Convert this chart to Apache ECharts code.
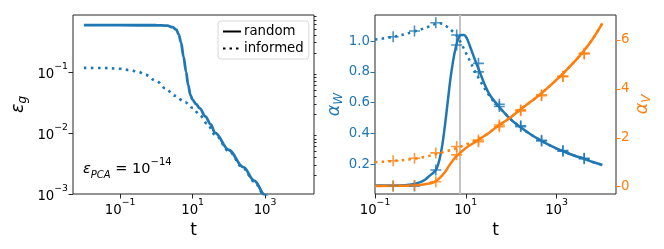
<!DOCTYPE html>
<html><head><meta charset="utf-8">
<script src="https://cdn.jsdelivr.net/npm/echarts@6/dist/echarts.min.js"></script>
<style>html,body{margin:0;padding:0;background:#fff}#c{width:664px;height:249px}</style>
</head><body><div id="c"></div>
<script>
// ===== DATA (x values are log10(t); left-panel y values are log10(eps_g)) =====
// Left panel: generalisation error
const epsRandomLogT   = [-2.0,-1.0,0.0,0.3,0.45,0.55,0.62,0.68,0.75,0.82,0.88,0.94,1.0,1.1,1.2,1.35,1.5,1.62,2.0,2.4,2.7,3.0,3.3];
const epsRandomLogEps = [-0.237,-0.237,-0.238,-0.245,-0.27,-0.31,-0.39,-0.52,-0.75,-1.0,-1.22,-1.38,-1.46,-1.53,-1.6,-1.73,-1.86,-2.0,-2.28,-2.56,-2.78,-3.02,-3.3];
const epsInformedLogT   = [-2.0,-1.5,-1.0,-0.75,-0.5,-0.3,0.0,0.25,0.5,0.8,1.0,1.2,1.4,1.62,2.0,2.4,2.7,3.0,3.3];
const epsInformedLogEps = [-0.935,-0.937,-0.95,-0.97,-1.0,-1.05,-1.15,-1.27,-1.39,-1.5,-1.59,-1.71,-1.85,-2.03,-2.3,-2.58,-2.8,-3.04,-3.32];
const leftXTicks = [-1, 1, 3];
const leftYTicks = [-3, -2, -1];
const legendNames = ['random', 'informed'];
const annotation = {sym: 'ε', sub: 'PCA', base: '10', exp: '−14'};

// Right panel: alpha_W (left axis) and alpha_V (right axis)
const aWRandomLogT = [-1.0,-0.5,-0.2,0.0,0.1,0.2,0.3,0.36,0.42,0.48,0.54,0.6,0.66,0.72,0.78,0.84,0.9,0.96,1.02,1.1,1.2,1.28,1.4,1.52,1.74,1.96,2.21,2.45,2.67,2.9,3.14,3.4,3.61,3.8,4.01];
const aWRandom     = [0.062,0.063,0.07,0.085,0.1,0.125,0.15,0.175,0.23,0.32,0.45,0.6,0.75,0.87,0.96,1.02,1.04,1.04,1.02,0.96,0.88,0.82,0.73,0.655,0.572,0.5,0.44,0.39,0.352,0.316,0.285,0.256,0.236,0.215,0.196];
const aWInformedLogT = [-1.0,-0.6,-0.13,0.2,0.4,0.5,0.6,0.7,0.8,0.9,1.0,1.1,1.2,1.3,1.4,1.52,1.65,1.8,1.96,2.21,2.45,2.67,2.9,3.14,3.4,3.61,3.8,4.01];
const aWInformed     = [1.01,1.027,1.062,1.095,1.115,1.11,1.09,1.065,1.035,0.985,0.925,0.865,0.805,0.75,0.70,0.645,0.595,0.55,0.502,0.44,0.39,0.352,0.316,0.285,0.256,0.236,0.215,0.196];
const aVRandomLogT = [-1.0,-0.5,-0.1,0.1,0.25,0.35,0.45,0.55,0.63,0.7,0.77,0.83,0.95,1.08,1.2,1.3,1.4,1.5,1.67,1.96,2.2,2.45,2.67,2.9,3.14,3.4,3.6,3.8,4.01];
const aVRandom     = [0.03,0.035,0.06,0.1,0.15,0.24,0.4,0.62,0.85,1.03,1.2,1.3,1.5,1.68,1.82,1.94,2.06,2.18,2.43,2.8,3.15,3.5,3.82,4.2,4.62,5.12,5.55,6.05,6.68];
const aVInformedLogT = [-1.0,-0.6,-0.13,0.1,0.35,0.6,0.8,1.0,1.2,1.35,1.5,1.67,1.96,2.2,2.45,2.67,2.9,3.14,3.4,3.6,3.8,4.01];
const aVInformed     = [1.0,1.05,1.14,1.22,1.33,1.46,1.58,1.72,1.88,2.02,2.19,2.43,2.8,3.15,3.5,3.82,4.2,4.62,5.12,5.55,6.05,6.68];
const markLogT        = [-0.6,-0.13,0.34,0.80,1.28,1.74,2.21,2.67,3.14,3.61];
const aWRandomMarks   = [0.06,0.06,0.163,0.974,0.855,0.59,0.45,0.356,0.289,0.239];
const aWInformedMarks = [1.028,1.065,1.119,1.039,0.80,0.575,0.445,0.352,0.286,0.236];
const aVRandomMarks   = [0.03,0.05,0.2,1.3,1.84,2.45,3.1,3.72,4.5,5.43];
const aVInformedMarks = [1.06,1.16,1.38,1.64,1.91,2.52,3.14,3.76,4.52,5.46];
const tStarLogT = 0.865;
const rightXTicks = [-1, 1, 3];
const aWTicks = [0.2, 0.4, 0.6, 0.8, 1.0];
const aVTicks = [0, 2, 4, 6];

// ===== CHART =====
const FONT = 'DejaVu Sans';
const BLUE = '#1f77b4', ORANGE = '#ff7f0e', DARK = '#262626';
const zip = (xs, ys) => xs.map((x, i) => [x, ys[i]]);
const minorLeftY = [];
for (let n = -3; n <= -1; n++) for (let k = 2; k <= 9; k++) {
  const v = Math.log10(k) + n; if (v < -0.07) minorLeftY.push(v);
}
const powRich = {
  b: {fontSize: 13.3, fontFamily: FONT, color: '#000', lineHeight: 19, verticalAlign: 'bottom'},
  s: {fontSize: 9.3, fontFamily: FONT, color: '#000', lineHeight: 10, verticalAlign: 'top'}
};
const powLabel = v => '{b|10}{s|' + (v < 0 ? '−' + (-v) : '' + v) + '}';
const nameStyle = (color) => ({fontSize: 16, fontFamily: FONT, color: color,
  rich: {i: {fontSize: 17.5, fontFamily: FONT, fontStyle: 'italic', color: color},
         u: {fontSize: 12, fontFamily: FONT, fontStyle: 'italic', color: color, padding: [9, 0, 0, 0]}}});
const plusSym = 'path://M5 0L5 10M0 5L10 5';
const noLine = {show: false, onZero: false};

const chart = echarts.init(document.getElementById('c'), null, {renderer: 'canvas'});
const opt = {
  animation: false,
  grid: [
    {left: 73, top: 15, width: 241, height: 179, show: true, borderColor: DARK, borderWidth: 1, backgroundColor: 'transparent'},
    {left: 375, top: 15, width: 241, height: 179, show: true, borderColor: DARK, borderWidth: 1, backgroundColor: 'transparent'}
  ],
  xAxis: [
    {gridIndex: 0, type: 'value', min: -2.3, max: 4.35, splitLine: {show: false}, axisLine: noLine,
     axisTick: {customValues: leftXTicks, length: 4.5, lineStyle: {color: DARK}},
     axisLabel: {customValues: leftXTicks, formatter: powLabel, rich: powRich, margin: 4},
     name: 't', nameLocation: 'middle', nameGap: 21, nameTextStyle: {fontSize: 17, fontFamily: FONT, color: '#000'}},
    {gridIndex: 1, type: 'value', min: -1, max: 4.31, splitLine: {show: false}, axisLine: noLine,
     axisTick: {customValues: rightXTicks, length: 4.5, lineStyle: {color: DARK}},
     axisLabel: {customValues: rightXTicks, formatter: powLabel, rich: powRich, margin: 4},
     name: 't', nameLocation: 'middle', nameGap: 21, nameTextStyle: {fontSize: 17, fontFamily: FONT, color: '#000'}}
  ],
  yAxis: [
    {gridIndex: 0, type: 'value', min: -3, max: -0.07, splitLine: {show: false}, axisLine: noLine,
     axisTick: {customValues: leftYTicks, length: 4.5, lineStyle: {color: DARK}},
     axisLabel: {customValues: leftYTicks, formatter: powLabel, rich: powRich, margin: 5},
     name: '{i|ε}{u|g}', nameLocation: 'middle', nameRotate: 90, nameGap: 44, nameTextStyle: nameStyle('#000')},
    {gridIndex: 0, type: 'value', min: -3, max: -0.07, splitLine: {show: false}, axisLine: noLine,
     axisTick: {customValues: minorLeftY, length: 2.5, lineStyle: {color: DARK}},
     axisLabel: {show: false}},
    {gridIndex: 1, type: 'value', min: 0.0076, max: 1.169, splitLine: {show: false}, axisLine: noLine,
     axisTick: {customValues: aWTicks, length: 4.5, lineStyle: {color: BLUE}},
     axisLabel: {customValues: aWTicks, formatter: v => v.toFixed(1), color: BLUE, fontSize: 13.3, fontFamily: FONT, margin: 5},
     name: '{i|α}{u|W}', nameLocation: 'middle', nameRotate: 90, nameGap: 27, nameTextStyle: nameStyle(BLUE)},
    {gridIndex: 1, type: 'value', position: 'right', min: -0.3, max: 7.02, splitLine: {show: false}, axisLine: noLine,
     axisTick: {customValues: aVTicks, length: 4.5, lineStyle: {color: ORANGE}},
     axisLabel: {customValues: aVTicks, formatter: v => String(v), color: ORANGE, fontSize: 13.3, fontFamily: FONT, margin: 5},
     name: '{i|α}{u|V}', nameLocation: 'middle', nameRotate: 90, nameGap: 15, nameTextStyle: nameStyle(ORANGE)}
  ],
  legend: {
    left: 218, top: 21, orient: 'vertical', itemGap: 4, itemWidth: 18, itemHeight: 10,
    padding: [4, 5, 4, 4], borderColor: '#d9d9d9', borderWidth: 1, borderRadius: 3,
    backgroundColor: 'rgba(255,255,255,0.8)', data: legendNames,
    itemStyle: {opacity: 0},
    textStyle: {fontSize: 13.3, fontFamily: FONT, color: '#000', padding: [0, 0, 0, -2]}
  },
  graphic: [{
    type: 'text', left: 83, top: 157,
    style: {
      text: '{e|' + annotation.sym + '}{s|' + annotation.sub + '}{n| = ' + annotation.base + '}{p|' + annotation.exp + '}',
      rich: {
        e: {fontSize: 14.5, fontFamily: FONT, fontStyle: 'italic', fill: '#000', lineHeight: 20, verticalAlign: 'bottom'},
        s: {fontSize: 10, fontFamily: FONT, fontStyle: 'italic', fill: '#000', lineHeight: 12, verticalAlign: 'bottom', padding: [0, 0, -3, 0]},
        n: {fontSize: 14.5, fontFamily: FONT, fill: '#000', lineHeight: 20, verticalAlign: 'bottom'},
        p: {fontSize: 10, fontFamily: FONT, fill: '#000', lineHeight: 10, verticalAlign: 'top'}
      }
    }
  }],
  series: [
    // legend proxies
    {type: 'line', name: legendNames[0], xAxisIndex: 0, yAxisIndex: 0, data: [], symbol: 'none',
     lineStyle: {color: '#000', width: 2.5}, itemStyle: {color: '#000'}},
    {type: 'line', name: legendNames[1], xAxisIndex: 0, yAxisIndex: 0, data: [], symbol: 'none',
     lineStyle: {color: '#000', width: 2.5, type: [2.5, 4]}, itemStyle: {color: '#000'}},
    // left panel
    {type: 'line', name: 'eps informed', xAxisIndex: 0, yAxisIndex: 0, data: zip(epsInformedLogT, epsInformedLogEps),
     symbol: 'none', smooth: 0.35, smoothMonotone: 'x', lineStyle: {color: BLUE, width: 2.6, type: [2.6, 4.4], cap: 'butt'}, z: 3},
    {type: 'line', name: 'eps random', xAxisIndex: 0, yAxisIndex: 0, data: zip(epsRandomLogT, epsRandomLogEps),
     symbol: 'none', smooth: 0.35, smoothMonotone: 'x', lineStyle: {color: BLUE, width: 2.8}, z: 4},
    // right panel lines
    {type: 'line', name: 'aW informed', xAxisIndex: 1, yAxisIndex: 2, data: zip(aWInformedLogT, aWInformed),
     symbol: 'none', smooth: 0.35, lineStyle: {color: BLUE, width: 2.5, type: [2.5, 4.2], cap: 'butt'}, z: 3,
     markLine: {silent: true, symbol: 'none', label: {show: false}, z: 1,
       lineStyle: {color: '#c4c4c4', width: 2, type: 'solid'}, data: [{xAxis: tStarLogT}]}},
    {type: 'line', name: 'aW random', xAxisIndex: 1, yAxisIndex: 2, data: zip(aWRandomLogT, aWRandom),
     symbol: 'none', smooth: 0.35, lineStyle: {color: BLUE, width: 2.5}, z: 3},
    {type: 'line', name: 'aV informed', xAxisIndex: 1, yAxisIndex: 3, data: zip(aVInformedLogT, aVInformed),
     symbol: 'none', smooth: 0.35, lineStyle: {color: ORANGE, width: 2.5, type: [2.5, 4.2], cap: 'butt'}, z: 4},
    {type: 'line', name: 'aV random', xAxisIndex: 1, yAxisIndex: 3, data: zip(aVRandomLogT, aVRandom),
     symbol: 'none', smooth: 0.35, lineStyle: {color: ORANGE, width: 2.5}, z: 4},
    // right panel markers
    {type: 'scatter', name: 'aW random sim', xAxisIndex: 1, yAxisIndex: 2, data: zip(markLogT, aWRandomMarks),
     symbol: plusSym, symbolSize: 11, itemStyle: {color: BLUE, borderColor: BLUE, borderWidth: 1.6}, z: 5},
    {type: 'scatter', name: 'aW informed sim', xAxisIndex: 1, yAxisIndex: 2, data: zip(markLogT, aWInformedMarks),
     symbol: plusSym, symbolSize: 11, itemStyle: {color: BLUE, borderColor: BLUE, borderWidth: 1.6}, z: 5},
    {type: 'scatter', name: 'aV random sim', xAxisIndex: 1, yAxisIndex: 3, data: zip(markLogT, aVRandomMarks),
     symbol: plusSym, symbolSize: 11, itemStyle: {color: ORANGE, borderColor: ORANGE, borderWidth: 1.6}, z: 6},
    {type: 'scatter', name: 'aV informed sim', xAxisIndex: 1, yAxisIndex: 3, data: zip(markLogT, aVInformedMarks),
     symbol: plusSym, symbolSize: 11, itemStyle: {color: ORANGE, borderColor: ORANGE, borderWidth: 1.6}, z: 6}
  ]
};
chart.setOption(opt);
</script>
</body></html>
